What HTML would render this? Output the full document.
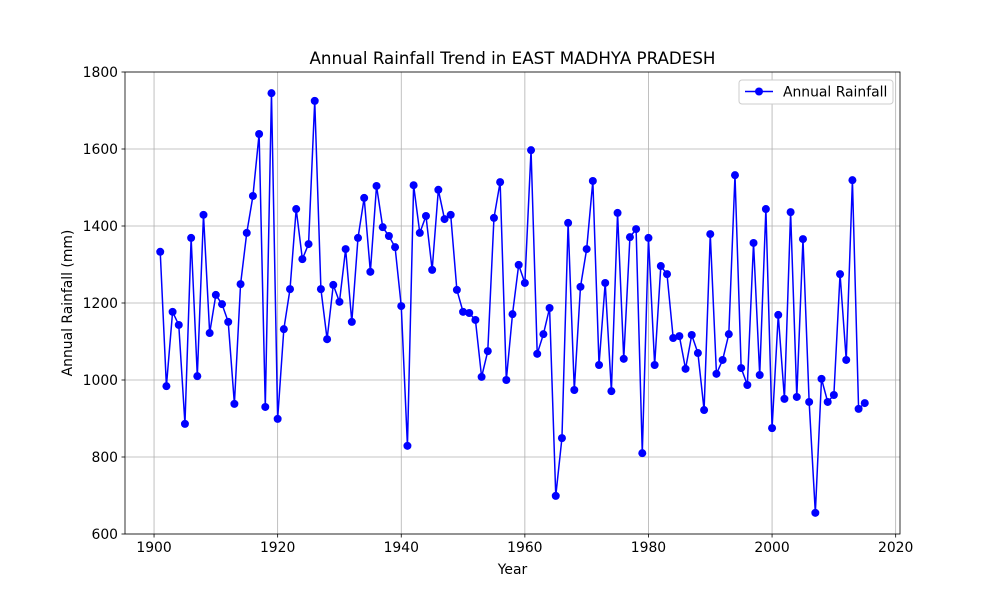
<!DOCTYPE html>
<html><head><meta charset="utf-8"><style>
body{margin:0;background:#fff;}
svg{display:block;font-family:"DejaVu Sans","Liberation Sans",sans-serif;}
</style></head><body>
<svg id="chart" width="1000" height="600"></svg>
<script>
const years = [];
for (let y = 1901; y <= 2015; y++) years.push(y);
const rainfall = [1333,984,1177,1143,886,1369,1010,1429,1122,1221,1197,1151,938,1249,1382,1478,1639,930,1745,899,
1132,1236,1444,1314,1353,1725,1236,1106,1247,1203,1340,1151,1369,1473,1281,1504,1397,1374,1345,1192,
829,1506,1382,1426,1286,1494,1418,1429,1234,1177,1174,1156,1008,1075,1421,1514,1000,1171,1299,1252,
1597,1068,1119,1187,699,849,1408,974,1242,1340,1517,1039,1252,971,1434,1055,1371,1392,810,1369,
1039,1296,1275,1109,1114,1029,1117,1070,922,1379,1016,1052,1119,1532,1031,987,1356,1013,1444,875,
1169,951,1436,956,1366,943,655,1003,943,961,1275,1052,1519,925,940];
const xTicks = [1900,1920,1940,1960,1980,2000,2020];
const yTicks = [600,800,1000,1200,1400,1600,1800];

const NS = "http://www.w3.org/2000/svg";
const svg = document.getElementById('chart');
const L=125,R=900,T=72,B=534;
const xMin=1895.3,xMax=2020.7,yMin=600,yMax=1800;
const sx = v => L + (v-xMin)/(xMax-xMin)*(R-L);
const sy = v => B - (v-yMin)/(yMax-yMin)*(B-T);
function mk(tag, attrs, parent){const e=document.createElementNS(NS,tag);for(const k in attrs)e.setAttribute(k,attrs[k]);(parent||svg).appendChild(e);return e;}

const grid = mk('g',{});


xTicks.forEach(t=>{
  const x=sx(t);
  const gl=mk('line',{x1:x,x2:x,y1:T,y2:B,stroke:'#b0b0b0','stroke-width':0.8},grid);
  
  
  mk('line',{x1:x,x2:x,y1:B,y2:B+3.5,stroke:'#000','stroke-width':0.8});
  const tl=mk('text',{x:x,y:B+18,'text-anchor':'middle','font-size':13.9});
  tl.textContent=t;
  
  
});
yTicks.forEach(t=>{
  const y=sy(t);
  const gl=mk('line',{x1:L,x2:R,y1:y,y2:y,stroke:'#b0b0b0','stroke-width':0.8},grid);
  
  
  mk('line',{x1:L-3.5,x2:L,y1:y,y2:y,stroke:'#000','stroke-width':0.8});
  const tl=mk('text',{x:L-7,y:y+5,'text-anchor':'end','font-size':13.9});
  tl.textContent=t;
  
  
});

const pts = years.map((yr,i)=>sx(yr)+','+sy(rainfall[i])).join(' ');
const line = mk('polyline',{points:pts,fill:'none',stroke:'#0000ff','stroke-width':1.5});


years.forEach((yr,i)=>{
  const c=mk('circle',{cx:sx(yr),cy:sy(rainfall[i]),r:4,fill:'#0000ff'});
  
  
});

const frame=mk('rect',{x:L,y:T,width:R-L,height:B-T,fill:'none',stroke:'#000','stroke-width':0.8});



const title=mk('text',{x:(L+R)/2,y:64,'text-anchor':'middle','font-size':16.7});
title.textContent='Annual Rainfall Trend in EAST MADHYA PRADESH';


const xl=mk('text',{x:(L+R)/2,y:574,'text-anchor':'middle','font-size':13.9});
xl.textContent='Year';


const yl=mk('text',{x:72,y:(T+B)/2,'text-anchor':'middle','font-size':13.9,transform:'rotate(-90 72 '+((T+B)/2)+')'});
yl.textContent='Annual Rainfall (mm)';



const lg=mk('g',{});


mk('rect',{x:739,y:80,width:154,height:24,rx:3,fill:'#fff',stroke:'#ccc','stroke-width':1},lg);
mk('line',{x1:745,x2:773,y1:91.5,y2:91.5,stroke:'#0000ff','stroke-width':1.5},lg);
mk('circle',{cx:759,cy:91.5,r:4,fill:'#0000ff'},lg);
const lt=mk('text',{x:783,y:96.5,'font-size':13.9},lg);
lt.textContent='Annual Rainfall';


</script>
</body></html>
